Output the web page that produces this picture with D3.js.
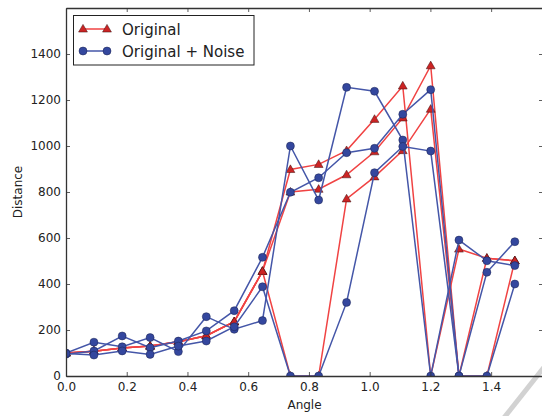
<!DOCTYPE html>
<html>
<head>
<meta charset="utf-8">
<script src="https://cdn.jsdelivr.net/npm/d3@7"></script>
<style>
    body { margin: 0; background: #fff; }
    svg { display: block; font-family: "DejaVu Sans", sans-serif; }
</style>
</head>
<body>
<div id="chart"></div>
<script>
// angles (rad) of the 17 samples
let angles = [0.000, 0.092, 0.185, 0.277, 0.370, 0.462, 0.554, 0.647, 0.739,
              0.832, 0.924, 1.016, 1.109, 1.201, 1.294, 1.386, 1.478];

// "Original" series (red triangles)
let original_a = [100, 108, 122, 130, 149, 175, 236, 455, 898, 920, 980, 1116, 1261, 0, 552, 512, 501];
let original_b = [100, 108, 122, 130, 149, 175, 236, 455, 800, 812, 875, 975, 1122, 1349, 0, 512, 501];
let original_c = [100, 108, 122, 130, 149, 175, 236, 455, 0, 0, 770, 866, 980, 1160, 0, 0, 501];

// "Original + Noise" series (blue circles)
let noise_a = [100, 147, 127, 167, 106, 258, 203, 241, 1000, 765, 1255, 1238, 1026, 0, 591, 501, 480];
let noise_b = [95, 109, 174, 123, 152, 196, 284, 516, 799, 862, 971, 990, 1138, 1245, 0, 451, 584];
let noise_c = [98, 91, 109, 94, 130, 152, 214, 388, 0, 0, 320, 884, 998, 978, 0, 0, 400];

let x_ticks = [0.0, 0.2, 0.4, 0.6, 0.8, 1.0, 1.2, 1.4];
let y_ticks = [0, 200, 400, 600, 800, 1000, 1200, 1400];

let legend_labels = ["Original", "Original + Noise"];

let width = 542, height = 416;
let plot = {left: 66, right: 543, top: 8, bottom: 376};

let red_line = "#f04343", red_fill = "#cc2424";
let blue_line = "#4456a8", blue_fill = "#34479e";

let svg = d3.select("#chart")
    .append("svg")
    .attr("width", width)
    .attr("height", height);

let x = d3.scaleLinear()
    .domain([0, Math.PI / 2])
    .range([plot.left, plot.right]);

let y = d3.scaleLinear()
    .domain([0, 1600])
    .range([plot.bottom, plot.top]);

svg.append("defs")
    .append("clipPath")
    .attr("id", "plot-clip")
    .append("rect")
    .attr("x", plot.left)
    .attr("y", plot.top)
    .attr("width", plot.right - plot.left)
    .attr("height", plot.bottom - plot.top);

// page shadow in the bottom right corner
svg.append("line")
    .attr("x1", 503).attr("y1", 419)
    .attr("x2", 545).attr("y2", 366)
    .attr("stroke", "#d2d2d2")
    .attr("stroke-width", 5);

let marks = svg.append("g").attr("clip-path", "url(#plot-clip)");

let line = d3.line()
    .x((d, i) => x(angles[i]))
    .y(d => y(d));

let triangle = d3.symbol().type(d3.symbolTriangle).size(34);

let drawSeries = (values, color, fill, shape) => {
    marks.append("path")
        .datum(values)
        .attr("d", line)
        .attr("fill", "none")
        .attr("stroke", color)
        .attr("stroke-width", 1.5);

    let pts = marks.selectAll(null)
        .data(values)
        .enter();

    if (shape === "triangle") {
        pts.append("path")
            .attr("d", triangle)
            .attr("transform", (d, i) => `translate(${x(angles[i])}, ${y(d) + 0.5})`)
            .attr("fill", fill)
            .attr("stroke", "#3a1010")
            .attr("stroke-width", 0.5);
    } else {
        pts.append("circle")
            .attr("cx", (d, i) => x(angles[i]))
            .attr("cy", d => y(d))
            .attr("r", 4)
            .attr("fill", fill)
            .attr("stroke", "#1a2350")
            .attr("stroke-width", 0.5);
    }
};

[original_a, original_b, original_c].forEach(s => drawSeries(s, red_line, red_fill, "triangle"));
[noise_a, noise_b, noise_c].forEach(s => drawSeries(s, blue_line, blue_fill, "circle"));

// axes, matplotlib classic style: inward ticks on all four sides
let styleAxis = g => {
    g.select(".domain").attr("stroke", "#333").attr("stroke-width", 1.3);
    g.selectAll(".tick line").attr("stroke", "#333").attr("stroke-width", 0.8);
    g.selectAll(".tick text").attr("fill", "#222").style("font-size", "12px")
        .style("font-family", "DejaVu Sans");
};

svg.append("g")
    .attr("transform", `translate(0, ${plot.bottom})`)
    .call(d3.axisBottom(x).tickValues(x_ticks).tickFormat(d3.format(".1f"))
        .tickSizeInner(-4).tickSizeOuter(0).tickPadding(6))
    .call(styleAxis);

svg.append("g")
    .attr("transform", `translate(0, ${plot.top})`)
    .call(d3.axisTop(x).tickValues(x_ticks).tickFormat("")
        .tickSizeInner(-4).tickSizeOuter(0))
    .call(styleAxis);

svg.append("g")
    .attr("transform", `translate(${plot.left}, 0)`)
    .call(d3.axisLeft(y).tickValues(y_ticks).tickFormat(d3.format("d"))
        .tickSizeInner(-4).tickSizeOuter(0).tickPadding(5))
    .call(styleAxis);

svg.append("g")
    .attr("transform", `translate(${plot.right}, 0)`)
    .call(d3.axisRight(y).tickValues(y_ticks).tickFormat("")
        .tickSizeInner(-4).tickSizeOuter(0))
    .call(styleAxis);

svg.append("text")
    .attr("x", (plot.left + plot.right) / 2)
    .attr("y", 409)
    .style("text-anchor", "middle")
    .style("font-size", "12px")
    .attr("fill", "#222")
    .text("Angle");

svg.append("text")
    .attr("transform", `translate(22, ${(plot.top + plot.bottom) / 2}) rotate(-90)`)
    .style("text-anchor", "middle")
    .style("font-size", "12px")
    .attr("fill", "#222")
    .text("Distance");

// legend
let legend = svg.append("g");

legend.append("rect")
    .attr("x", 73.5)
    .attr("y", 15.5)
    .attr("width", 180.5)
    .attr("height", 49.5)
    .attr("fill", "white")
    .attr("stroke", "#222")
    .attr("stroke-width", 1);

legend_labels.forEach((label, i) => {
    let ly = 29 + i * 22;
    let color = i === 0 ? red_line : blue_line;
    let fill = i === 0 ? red_fill : blue_fill;

    legend.append("line")
        .attr("x1", 83).attr("x2", 107)
        .attr("y1", ly).attr("y2", ly)
        .attr("stroke", color)
        .attr("stroke-width", 1.5);

    [83, 107].forEach(mx => {
        if (i === 0) {
            legend.append("path")
                .attr("d", triangle)
                .attr("transform", `translate(${mx}, ${ly + 0.5})`)
                .attr("fill", fill)
                .attr("stroke", "#3a1010")
                .attr("stroke-width", 0.5);
        } else {
            legend.append("circle")
                .attr("cx", mx).attr("cy", ly).attr("r", 4)
                .attr("fill", fill)
                .attr("stroke", "#1a2350")
                .attr("stroke-width", 0.5);
        }
    });

    legend.append("text")
        .attr("x", 122)
        .attr("y", ly + 5.5)
        .style("font-size", "15px")
        .attr("fill", "#222")
        .text(label);
});
</script>
</body>
</html>
